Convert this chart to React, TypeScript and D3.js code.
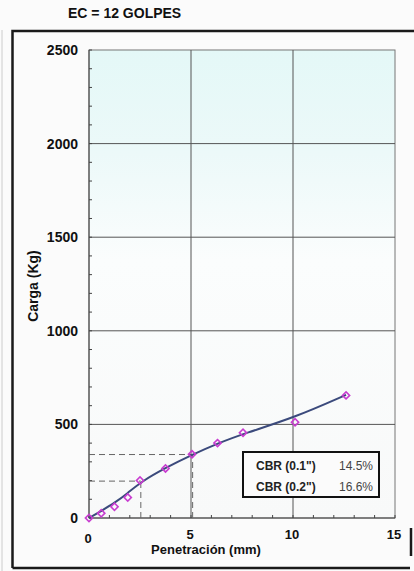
import React, { useEffect, useRef } from "react";
import * as d3 from "d3";

// ensayo CBR, EC = 12 golpes
const penetracion = [0, 0.6, 1.25, 1.9, 2.5, 3.75, 5.05, 6.3, 7.55, 10.1, 12.6];
const carga = [0, 25, 60, 110, 200, 265, 340, 400, 455, 512, 655];

// curva ajustada
const penAjuste = [0, 0.6, 1.25, 1.9, 2.54, 3.75, 5.08, 6.3, 7.62, 10.1, 12.6];
const cargaAjuste = [0, 38, 80, 133, 192, 268, 339, 398, 452, 538, 658];

const xTicks = [0, 5, 10, 15];
const yTicks = [0, 500, 1000, 1500, 2000, 2500];

const cbrLabels = ['CBR (0.1")', 'CBR (0.2")'];
const cbrValues = ["14.5%", "16.6%"];
const cbrPen = [2.54, 5.08];
const cbrCarga = [197, 339];

const W = 414;
const H = 571;
const FONT = "'Liberation Sans', Arial, sans-serif";

const App = () => {
  const ref = useRef<HTMLDivElement>(null);

  useEffect(() => {
    d3.select(ref.current).selectAll("*").remove();
    const svg = d3
      .select(ref.current)
      .append("svg")
      .attr("width", W)
      .attr("height", H)
      .style("display", "block")
      .style("font-family", FONT);

    svg.append("rect").attr("width", W).attr("height", H).attr("fill", "#fbfbfb");

    const x = d3.scaleLinear().domain([0, 15]).range([89, 395]);
    const y = d3.scaleLinear().domain([0, 2500]).range([518, 50]);

    // background gradient of the plot area
    const grad = svg
      .append("defs")
      .append("linearGradient")
      .attr("id", "bg")
      .attr("x1", 0)
      .attr("y1", 0)
      .attr("x2", 0)
      .attr("y2", 1);
    grad.append("stop").attr("offset", "0%").attr("stop-color", "#e4f8f7");
    grad.append("stop").attr("offset", "22%").attr("stop-color", "#ecf9f9");
    grad.append("stop").attr("offset", "45%").attr("stop-color", "#fbfdfd");
    grad.append("stop").attr("offset", "100%").attr("stop-color", "#f8f9f9");

    svg
      .append("rect")
      .attr("x", x(0))
      .attr("y", y(2500))
      .attr("width", x(15) - x(0))
      .attr("height", y(0) - y(2500))
      .attr("fill", "url(#bg)")
      .attr("stroke", "#777")
      .attr("stroke-width", 1);

    // grid
    const g = svg.append("g");
    g.selectAll(".vg")
      .data([5, 10])
      .enter()
      .append("line")
      .attr("x1", (d) => x(d))
      .attr("x2", (d) => x(d))
      .attr("y1", y(0))
      .attr("y2", y(2500))
      .attr("stroke", "#555")
      .attr("stroke-width", 1);
    g.selectAll(".hg")
      .data([500, 1000, 1500, 2000])
      .enter()
      .append("line")
      .attr("x1", x(0))
      .attr("x2", x(15))
      .attr("y1", (d) => y(d))
      .attr("y2", (d) => y(d))
      .attr("stroke", "#555")
      .attr("stroke-width", 1);

    // minor ticks
    g.selectAll(".ym")
      .data(d3.range(0, 2501, 100))
      .enter()
      .append("line")
      .attr("x1", x(0))
      .attr("x2", x(0) + 3)
      .attr("y1", (d) => y(d))
      .attr("y2", (d) => y(d))
      .attr("stroke", "#444");
    g.selectAll(".xm")
      .data(d3.range(0, 16, 1))
      .enter()
      .append("line")
      .attr("x1", (d) => x(d))
      .attr("x2", (d) => x(d))
      .attr("y1", y(0))
      .attr("y2", y(0) - 3)
      .attr("stroke", "#444");

    // axis lines
    g.append("line")
      .attr("x1", x(0))
      .attr("x2", x(0))
      .attr("y1", y(0))
      .attr("y2", y(2500))
      .attr("stroke", "#444");
    g.append("line")
      .attr("x1", x(0))
      .attr("x2", x(15))
      .attr("y1", y(0))
      .attr("y2", y(0))
      .attr("stroke", "#444");

    // dashed CBR guides
    cbrPen.forEach((p, i) => {
      g.append("line")
        .attr("x1", x(0))
        .attr("x2", x(p))
        .attr("y1", y(cbrCarga[i]))
        .attr("y2", y(cbrCarga[i]))
        .attr("stroke", "#666")
        .attr("stroke-dasharray", "6,4");
      g.append("line")
        .attr("x1", x(p))
        .attr("x2", x(p))
        .attr("y1", y(0))
        .attr("y2", y(cbrCarga[i]))
        .attr("stroke", "#666")
        .attr("stroke-dasharray", "6,4");
    });

    // fitted curve
    const line = d3
      .line<number>()
      .x((d, i) => x(penAjuste[i]))
      .y((d) => y(d))
      .curve(d3.curveBasis);
    svg
      .append("path")
      .attr("d", line(cargaAjuste))
      .attr("fill", "none")
      .attr("stroke", "#3b4a7c")
      .attr("stroke-width", 2);

    // points
    const sym = d3.symbol().type(d3.symbolSquare).size(26);
    svg
      .selectAll(".pt")
      .data(carga)
      .enter()
      .append("path")
      .attr("d", sym)
      .attr(
        "transform",
        (d, i) => `translate(${x(penetracion[i])},${y(d)}) rotate(45)`
      )
      .attr("fill", "none")
      .attr("stroke", "#c83cd0")
      .attr("stroke-width", 1.6);

    // tick labels
    svg
      .selectAll(".yl")
      .data(yTicks)
      .enter()
      .append("text")
      .attr("x", 78)
      .attr("y", (d) => y(d) + 5)
      .attr("text-anchor", "end")
      .attr("font-size", 14)
      .attr("font-weight", "bold")
      .attr("fill", "#111")
      .text((d) => d);
    svg
      .selectAll(".xl")
      .data(xTicks)
      .enter()
      .append("text")
      .attr("x", (d) => x(d) - 1)
      .attr("y", (d) => (d === 0 ? 543 : 539))
      .attr("text-anchor", "middle")
      .attr("font-size", 13)
      .attr("font-weight", "bold")
      .attr("fill", "#111")
      .text((d) => d);

    // axis titles
    svg
      .append("text")
      .attr("x", 206)
      .attr("y", 554)
      .attr("text-anchor", "middle")
      .attr("font-size", 13)
      .attr("font-weight", "bold")
      .attr("fill", "#111")
      .text("Penetración (mm)");
    svg
      .append("text")
      .attr("transform", "translate(38,286) rotate(-90)")
      .attr("text-anchor", "middle")
      .attr("font-size", 14)
      .attr("font-weight", "bold")
      .attr("fill", "#111")
      .text("Carga (Kg)");

    // title
    svg
      .append("text")
      .attr("x", 68)
      .attr("y", 18)
      .attr("font-size", 14)
      .attr("font-weight", "bold")
      .attr("fill", "#111")
      .text("EC = 12 GOLPES");

    // CBR box
    const box = svg.append("g");
    box
      .append("rect")
      .attr("x", 243)
      .attr("y", 452)
      .attr("width", 136)
      .attr("height", 45)
      .attr("fill", "#fbfbfb")
      .attr("stroke", "#111")
      .attr("stroke-width", 2);
    cbrLabels.forEach((lab, i) => {
      box
        .append("text")
        .attr("x", 256)
        .attr("y", 470 + i * 21)
        .attr("font-size", 12)
        .attr("font-weight", "bold")
        .attr("fill", "#222")
        .text(lab);
      box
        .append("text")
        .attr("x", 339)
        .attr("y", 470 + i * 21)
        .attr("font-size", 12)
        .attr("fill", "#444")
        .text(cbrValues[i]);
    });

    // outer frame
    const frame = svg
      .append("g")
      .attr("fill", "none")
      .attr("stroke", "#1a1a1a")
      .attr("stroke-width", 2.5);
    frame.append("path").attr("d", "M12.5,568 L12.5,31 L414,31");
    frame.append("path").attr("d", "M12.5,568 L410,568");
    frame.append("path").attr("d", "M411,528 L411,556");
    svg
      .append("line")
      .attr("x1", 2)
      .attr("x2", 2)
      .attr("y1", 30)
      .attr("y2", 571)
      .attr("stroke", "#ccc");
  }, []);

  return (
    <div
      ref={ref}
      style={{ position: "absolute", left: 0, top: 0, width: W, height: H }}
    ></div>
  );
};

export default App;
